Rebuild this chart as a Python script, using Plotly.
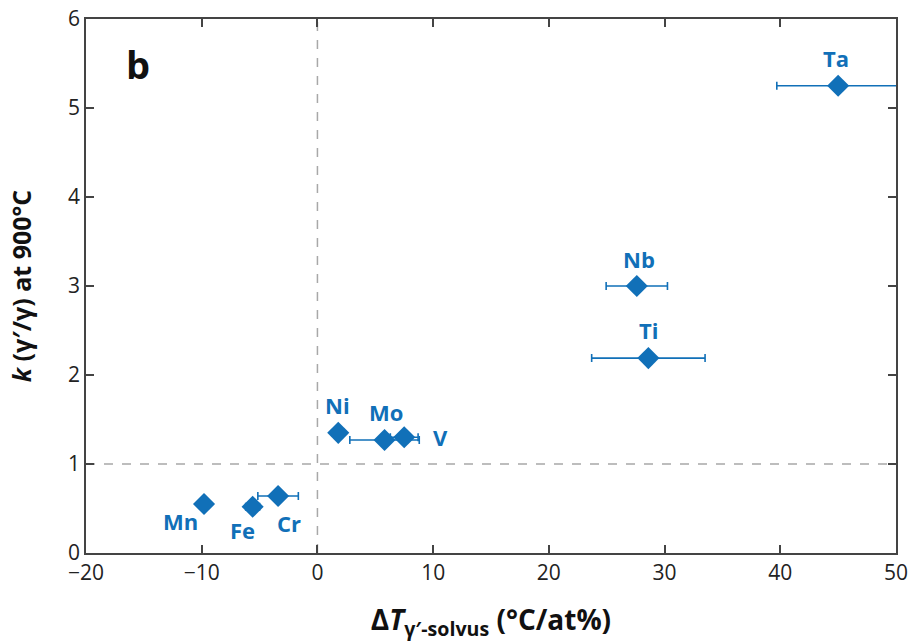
import plotly.graph_objects as go

# Partitioning coefficient vs. gamma-prime solvus shift per alloying element
elements = ["Ta", "Nb", "Ti", "Ni", "Mo", "V", "Mn", "Fe", "Cr"]
dT_solvus = [45.0, 27.6, 28.6, 1.8, 5.8, 7.5, -9.8, -5.6, -3.4]
dT_err = [5.3, 2.65, 4.9, 0.5, 3.0, 1.2, 0.0, 0.6, 1.75]
k_ratio = [5.25, 3.0, 2.19, 1.35, 1.27, 1.30, 0.55, 0.52, 0.64]

x_ticks = [-20, -10, 0, 10, 20, 30, 40, 50]
y_ticks = [0, 1, 2, 3, 4, 5, 6]

BLUE = "#1170b8"
FONT = "Open Sans"

# label placement (pixel offsets from each point)
label_offsets = {
    "Ta": (-2, 28), "Nb": (2, 27), "Ti": (0, 28), "Ni": (-1, 28),
    "Mo": (1, 28), "V": (36, 0), "Mn": (-24, -17), "Fe": (-10, -23),
    "Cr": (11, -27),
}

fig = go.Figure()

fig.add_trace(go.Scatter(
    x=dT_solvus, y=k_ratio, mode="markers",
    marker=dict(symbol="diamond", size=17, color=BLUE),
    error_x=dict(type="data", array=dT_err, visible=True, color=BLUE,
                 thickness=1.6, width=4),
    showlegend=False, hoverinfo="skip",
))

for name, xv, yv in zip(elements, dT_solvus, k_ratio):
    dx, dy = label_offsets[name]
    fig.add_annotation(x=xv, y=yv, text=f"<b>{name}</b>", showarrow=False,
                       xshift=dx, yshift=dy,
                       font=dict(family=FONT, size=22, color=BLUE))

# reference lines at k = 1 and dT = 0
fig.add_shape(type="line", x0=-20, x1=50, y0=1, y1=1, xref="x", yref="y",
              line=dict(color="#a8a8a8", width=1.5, dash="dash"), layer="below")
fig.add_shape(type="line", x0=0, x1=0, y0=0, y1=6, xref="x", yref="y",
              line=dict(color="#a8a8a8", width=1.5, dash="dash"), layer="below")

fig.add_annotation(x=0.047, y=0.915, xref="paper", yref="paper", text="<b>b</b>",
                   showarrow=False, xanchor="left", yanchor="middle",
                   font=dict(family=FONT, size=38, color="#111111"))

axis_common = dict(
    showline=True, linecolor="#444444", linewidth=1.5, mirror="ticks",
    ticks="inside", ticklen=8, tickwidth=1.5, tickcolor="#444444",
    showgrid=False, zeroline=False, automargin=False,
    tickfont=dict(family=FONT, size=21, color="#222222"),
)

fig.update_xaxes(range=[-20, 50], tickvals=x_ticks,
                 ticktext=[f"{t}".replace("-", "\u2212") for t in x_ticks],
                 title=dict(text="<b>Δ<i>T</i><sub>γ′-solvus</sub> (°C/at%)</b>",
                            font=dict(family=FONT, size=28, color="#111111"), standoff=26),
                 **axis_common)
fig.update_yaxes(range=[0, 6], tickvals=y_ticks,
                 title=dict(text="<b><i>k</i> (γ′/γ) at 900°C</b>",
                            font=dict(family=FONT, size=25, color="#111111"), standoff=29),
                 **axis_common)

fig.update_layout(
    width=911, height=642,
    margin=dict(l=86, r=15, t=19, b=89),
    plot_bgcolor="white", paper_bgcolor="white",
)

fig.write_html("out.html")
